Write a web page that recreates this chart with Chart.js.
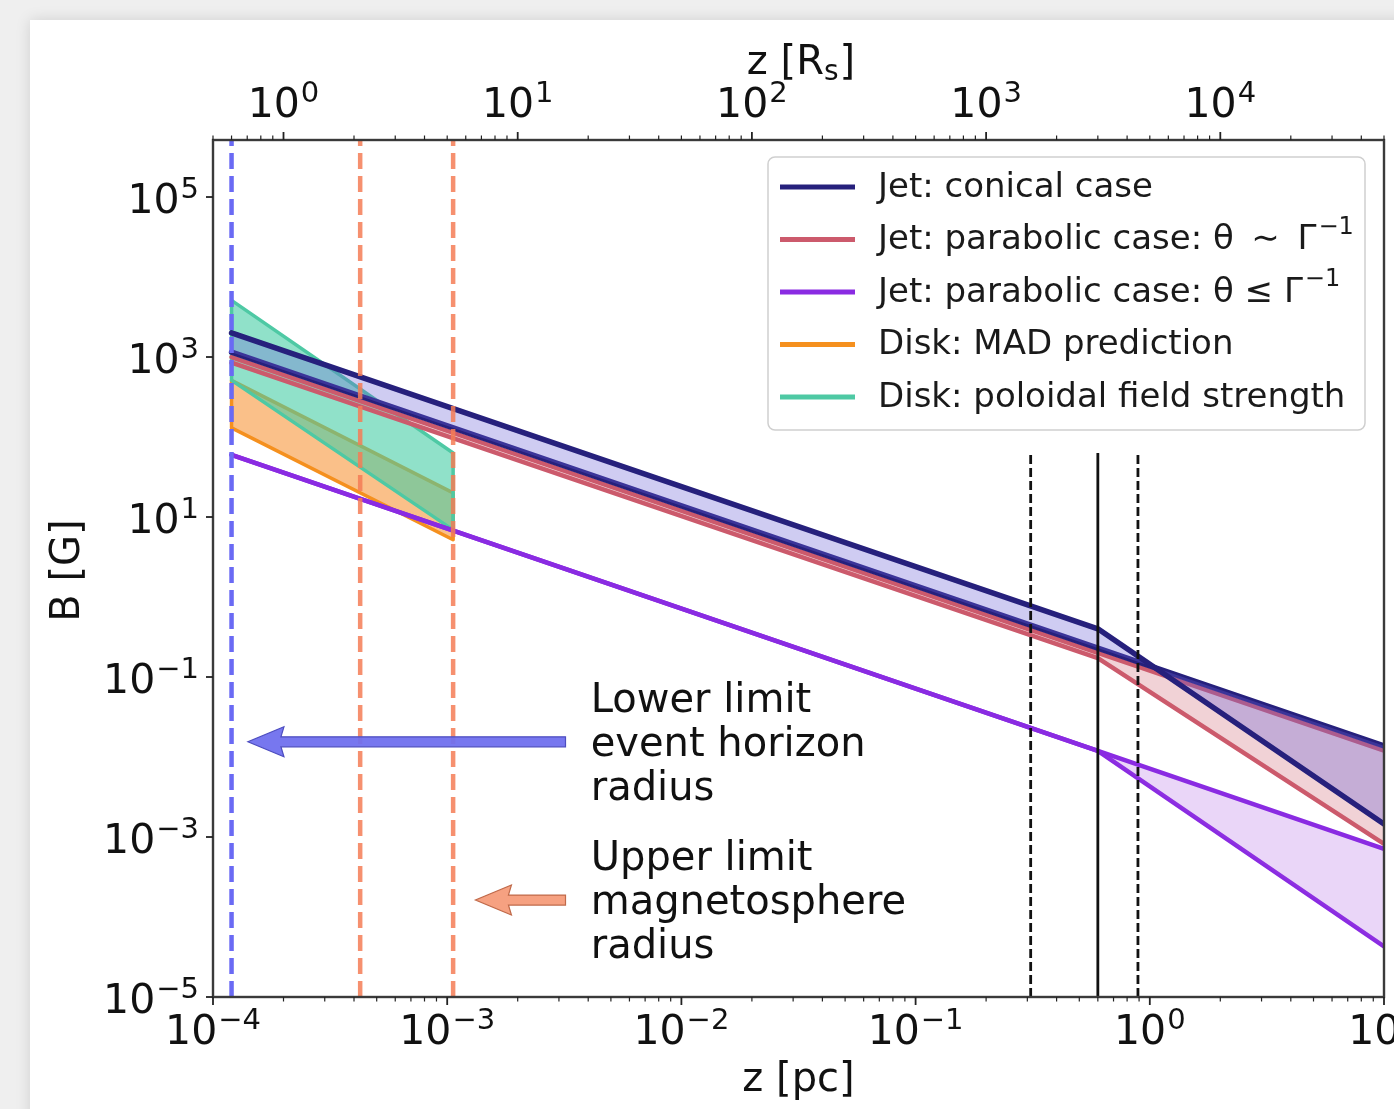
<!DOCTYPE html>
<html lang="en">
<head>
<meta charset="UTF-8">
<title>Magnetic field strength along the jet</title>
<script src="https://cdn.jsdelivr.net/npm/chart.js"></script>
<style>
  html, body { margin: 0; padding: 0; background: #efefef; width: 1394px; height: 1109px; overflow: hidden; }
  #card { position: absolute; left: 30px; top: 20px; width: 1400px; height: 1120px; background: #fff; box-shadow: 0 0 14px rgba(0,0,0,0.13); }
  #bfield { position: absolute; left: 0; top: 0; }
</style>
</head>
<body>
<div id="card"></div>
<canvas id="bfield" width="1394" height="1109"></canvas>
<script>
// distance along the jet in pc, field strength in G
const jetZ = [1.2e-4, 0.6, 10];
const conicalUpperB = [2000, 0.40, 0.00145];
const conicalLowerB = [1150, 0.23, 0.0138];
const parabolicUpperB = [1000, 0.20, 0.012];
const parabolicLowerB = [850, 0.172, 0.00082];
const narrowUpperB = [60, 0.0119, 0.00071];
const narrowLowerB = [60, 0.0119, 0.0000428];

const diskZ = [1.2e-4, 1.06e-3];
const madUpperB = [510, 20];
const madLowerB = [130, 5.2];
const poloidalUpperB = [5100, 63];
const poloidalLowerB = [510, 6.9];

const horizonZ = 1.2e-4;
const magnetosphereZ = [4.25e-4, 1.06e-3];
const transitionZ = [0.31, 0.6, 0.89];
const transitionTopB = 63;

const zRange = [1e-4, 10];
const bRange = [1e-5, 5.16e5];
const pcToRs = 5000;
const xTickExps = [-4, -3, -2, -1, 0, 1];
const topTickExps = [0, 1, 2, 3, 4];
const yTickExps = [-5, -3, -1, 1, 3, 5];

const seriesNames = [
  ['Jet: conical case', ''],
  ['Jet: parabolic case: θ \u2009∼ \u2009Γ', '−1'],
  ['Jet: parabolic case: θ ≤ Γ', '−1'],
  ['Disk: MAD prediction', ''],
  ['Disk: poloidal field strength', '']
];
const seriesColors = ['#26207c', '#cc5a6c', '#8a2be2', '#f5901e', '#4ec9a4'];

const horizonNote = { from: 3.2e-3, to: 1.41e-4, b: 0.0155, lines: ['Lower limit', 'event horizon', 'radius'] };
const magnetoNote = { from: 3.2e-3, to: 1.32e-3, b: 1.63e-4, lines: ['Upper limit', 'magnetosphere', 'radius'] };
const noteTextZ = 4.1e-3;

const FONT = '"DejaVu Sans", "Liberation Sans", sans-serif';

function pts(zs, bs) {
  return zs.map((z, i) => ({ x: z, y: bs[i] }));
}
function band(zs, upper, lower) {
  const p = pts(zs, upper);
  return p.concat(pts(zs, lower).reverse(), [p[0]]);
}
function vline(z, top) {
  return [{ x: z, y: bRange[0] }, { x: z, y: top }];
}

const lineBase = { pointRadius: 0, tension: 0, borderJoinStyle: 'round', borderCapStyle: 'round' };

const datasets = [
  // vertical markers on top
  { ...lineBase, data: vline(horizonZ, bRange[1]), borderColor: '#6a6af4', borderWidth: 4.5, borderDash: [16, 7], borderCapStyle: 'butt', order: 0 },
  ...magnetosphereZ.map(z => ({ ...lineBase, data: vline(z, bRange[1]), borderColor: 'rgba(244,124,86,0.85)', borderWidth: 4.5, borderDash: [16, 7], borderCapStyle: 'butt', order: 0 })),
  ...transitionZ.map((z, i) => ({ ...lineBase, data: vline(z, transitionTopB), borderColor: '#111', borderWidth: 2.8, borderDash: i === 1 ? [] : [9, 4], borderCapStyle: 'butt', order: 0 })),
  // jet bands
  { ...lineBase, data: pts(jetZ, conicalUpperB), borderColor: seriesColors[0], borderWidth: 5.5, fill: '+1', backgroundColor: 'rgba(106,96,214,0.32)', order: 1, legend: 0 },
  { ...lineBase, data: pts(jetZ, conicalLowerB), borderColor: seriesColors[0], borderWidth: 5.5, fill: false, order: 1 },
  { ...lineBase, data: pts(jetZ, parabolicUpperB), borderColor: seriesColors[1], borderWidth: 4.5, fill: '+1', backgroundColor: 'rgba(205,92,108,0.28)', order: 2, legend: 1 },
  { ...lineBase, data: pts(jetZ, parabolicLowerB), borderColor: seriesColors[1], borderWidth: 4.5, fill: false, order: 2 },
  { ...lineBase, data: pts(jetZ, narrowUpperB), borderColor: seriesColors[2], borderWidth: 4.5, fill: '+1', backgroundColor: 'rgba(160,70,225,0.22)', order: 3, legend: 2 },
  { ...lineBase, data: pts(jetZ, narrowLowerB), borderColor: seriesColors[2], borderWidth: 4.5, fill: false, order: 3 },
  // disk bands
  { ...lineBase, data: band(diskZ, poloidalUpperB, poloidalLowerB), borderColor: seriesColors[4], borderWidth: 3.5, fill: 'shape', backgroundColor: 'rgba(70,205,165,0.6)', order: 4, legend: 4 },
  { ...lineBase, data: band(diskZ, madUpperB, madLowerB), borderColor: seriesColors[3], borderWidth: 3.5, fill: 'shape', backgroundColor: 'rgba(245,140,40,0.55)', order: 5, legend: 3 }
];

function decadeTicks(scale, exps, minors) {
  const out = [];
  const lo = Math.floor(Math.log10(scale.min)), hi = Math.ceil(Math.log10(scale.max));
  for (let e = lo; e <= hi; e++) {
    for (let m = 1; m < 10; m++) {
      const v = m * Math.pow(10, e);
      if (v < scale.min * 0.999 || v > scale.max * 1.001) continue;
      if (m === 1 && exps.includes(e)) out.push({ value: v, major: true });
      else if (minors && m > 1) out.push({ value: v, major: false });
    }
  }
  scale.ticks = out;
}

const hidden = { ticks: { display: false }, grid: { display: false }, border: { display: false }, title: { display: false } };

function powLabel(ctx, exp, x, y, align, size) {
  const base = '10';
  const sup = String(exp).replace('-', '−');
  const small = Math.round(size * 0.7);
  ctx.font = size + 'px ' + FONT;
  const wb = ctx.measureText(base).width;
  ctx.font = small + 'px ' + FONT;
  const ws = ctx.measureText(sup).width;
  const w = wb + ws + 1;
  const x0 = align === 'center' ? x - w / 2 : align === 'right' ? x - w : x;
  ctx.textAlign = 'left';
  ctx.textBaseline = 'alphabetic';
  ctx.font = size + 'px ' + FONT;
  ctx.fillText(base, x0, y);
  ctx.font = small + 'px ' + FONT;
  ctx.fillText(sup, x0 + wb + 1, y - size * 0.36);
}

function richText(ctx, text, sup, x, y, size) {
  ctx.font = size + 'px ' + FONT;
  ctx.fillText(text, x, y);
  if (!sup) return;
  const w = ctx.measureText(text).width;
  ctx.font = Math.round(size * 0.7) + 'px ' + FONT;
  ctx.fillText(sup, x + w + 2, y - size * 0.38);
}

function arrow(ctx, x0, x1, y, fill, edge) {
  const hw = 5, hh = 15, hl = 33;
  ctx.beginPath();
  ctx.moveTo(x0, y - hw);
  ctx.lineTo(x1 + hl, y - hw);
  ctx.lineTo(x1 + hl + 3, y - hh);
  ctx.lineTo(x1, y);
  ctx.lineTo(x1 + hl + 3, y + hh);
  ctx.lineTo(x1 + hl, y + hw);
  ctx.lineTo(x0, y + hw);
  ctx.closePath();
  ctx.fillStyle = fill;
  ctx.fill();
  ctx.strokeStyle = edge;
  ctx.lineWidth = 1.2;
  ctx.stroke();
}

const notes = {
  id: 'notes',
  afterDatasetsDraw(chart) {
    const { ctx, scales: { x, y } } = chart;
    ctx.save();
    [[horizonNote, 'rgba(112,112,238,0.95)', '#4d4dc0'], [magnetoNote, 'rgba(246,156,122,0.95)', '#c06a4a']].forEach(([n, fill, edge]) => {
      const py = y.getPixelForValue(n.b);
      arrow(ctx, x.getPixelForValue(n.from), x.getPixelForValue(n.to), py, fill, edge);
      ctx.fillStyle = '#111';
      ctx.font = '40px ' + FONT;
      ctx.textAlign = 'left';
      ctx.textBaseline = 'alphabetic';
      const tx = x.getPixelForValue(noteTextZ);
      n.lines.forEach((t, i) => ctx.fillText(t, tx, py - 30 + i * 44));
    });
    ctx.restore();
  }
};

const frame = {
  id: 'frame',
  afterDraw(chart) {
    const { ctx, chartArea: a, scales: { x, xTop, y } } = chart;
    ctx.save();
    ctx.strokeStyle = '#3a3a3a';
    ctx.lineWidth = 2.4;
    ctx.strokeRect(a.left, a.top, a.right - a.left, a.bottom - a.top);

    ctx.strokeStyle = '#222';
    x.ticks.forEach(t => {
      const px = x.getPixelForValue(t.value);
      ctx.lineWidth = t.major ? 1.8 : 1.2;
      ctx.beginPath(); ctx.moveTo(px, a.bottom); ctx.lineTo(px, a.bottom + (t.major ? 8 : 4.5)); ctx.stroke();
    });
    xTop.ticks.forEach(t => {
      const px = xTop.getPixelForValue(t.value);
      ctx.lineWidth = t.major ? 1.8 : 1.2;
      ctx.beginPath(); ctx.moveTo(px, a.top); ctx.lineTo(px, a.top - (t.major ? 8 : 4.5)); ctx.stroke();
    });
    y.ticks.forEach(t => {
      const py = y.getPixelForValue(t.value);
      ctx.lineWidth = 1.8;
      ctx.beginPath(); ctx.moveTo(a.left, py); ctx.lineTo(a.left - 7, py); ctx.stroke();
    });

    ctx.fillStyle = '#111';
    x.ticks.filter(t => t.major).forEach(t => powLabel(ctx, Math.round(Math.log10(t.value)), x.getPixelForValue(t.value), a.bottom + 47, 'center', 41));
    xTop.ticks.filter(t => t.major).forEach(t => powLabel(ctx, Math.round(Math.log10(t.value)), xTop.getPixelForValue(t.value), a.top - 23, 'center', 41));
    y.ticks.forEach(t => powLabel(ctx, Math.round(Math.log10(t.value)), a.left - 14, y.getPixelForValue(t.value) + 16, 'right', 41));

    // axis titles
    const cx = (a.left + a.right) / 2;
    ctx.font = '40px ' + FONT;
    ctx.textAlign = 'center';
    ctx.textBaseline = 'middle';
    ctx.fillText('z [pc]', cx, a.bottom + 84);
    ctx.save();
    ctx.translate(69, (a.top + a.bottom) / 2 + 2);
    ctx.rotate(-Math.PI / 2);
    ctx.fillText('B [G]', 0, 0);
    ctx.restore();
    // z [R_s] with subscript
    ctx.textAlign = 'left';
    ctx.textBaseline = 'alphabetic';
    ctx.font = '40px ' + FONT;
    const w1 = ctx.measureText('z [R').width, w3 = ctx.measureText(']').width;
    ctx.font = '28px ' + FONT;
    const w2 = ctx.measureText('s').width;
    const tx = cx + 2 - (w1 + w2 + w3) / 2;
    const ty = 74;
    ctx.font = '40px ' + FONT;
    ctx.fillText('z [R', tx, ty);
    ctx.font = '28px ' + FONT;
    ctx.fillText('s', tx + w1, ty + 6);
    ctx.font = '40px ' + FONT;
    ctx.fillText(']', tx + w1 + w2 + 1, ty);

    // legend
    const bx = 768, by = a.top + 17, bw = a.right - 19 - bx, bh = 273;
    ctx.fillStyle = 'rgba(255,255,255,0.85)';
    ctx.strokeStyle = '#cfcfcf';
    ctx.lineWidth = 1.5;
    ctx.beginPath();
    ctx.roundRect(bx, by, bw, bh, 7);
    ctx.fill();
    ctx.stroke();
    chart.data.datasets.filter(d => d.legend !== undefined).sort((p, q) => p.legend - q.legend).forEach((d, i) => {
      const ly = by + 30 + i * 52.5;
      ctx.strokeStyle = d.borderColor;
      ctx.lineWidth = 5;
      ctx.beginPath(); ctx.moveTo(bx + 12, ly); ctx.lineTo(bx + 87, ly); ctx.stroke();
      ctx.fillStyle = '#1a1a1a';
      ctx.textAlign = 'left';
      ctx.textBaseline = 'middle';
      richText(ctx, seriesNames[d.legend][0], seriesNames[d.legend][1], bx + 110, ly + 1, 34);
    });
    ctx.restore();
  }
};

new Chart(document.getElementById('bfield'), {
  type: 'line',
  data: { datasets },
  options: {
    responsive: false,
    animation: false,
    events: [],
    layout: { padding: { left: 0, right: 10, top: 0, bottom: 0 } },
    plugins: { legend: { display: false }, tooltip: { enabled: false } },
    scales: {
      x: {
        ...hidden, type: 'logarithmic', position: 'bottom', min: zRange[0], max: zRange[1],
        afterBuildTicks: s => decadeTicks(s, xTickExps, true),
        afterFit: s => { s.height = 112; s.paddingLeft = 0; s.paddingRight = 0; }
      },
      xTop: {
        ...hidden, type: 'logarithmic', position: 'top', min: zRange[0] * pcToRs, max: zRange[1] * pcToRs,
        afterBuildTicks: s => decadeTicks(s, topTickExps, true),
        afterFit: s => { s.height = 140; s.paddingLeft = 0; s.paddingRight = 0; }
      },
      y: {
        ...hidden, type: 'logarithmic', position: 'left', min: bRange[0], max: bRange[1],
        afterBuildTicks: s => decadeTicks(s, yTickExps, false),
        afterFit: s => { s.width = 213; s.paddingTop = 0; s.paddingBottom = 0; }
      }
    }
  },
  plugins: [notes, frame]
});
</script>
</body>
</html>
